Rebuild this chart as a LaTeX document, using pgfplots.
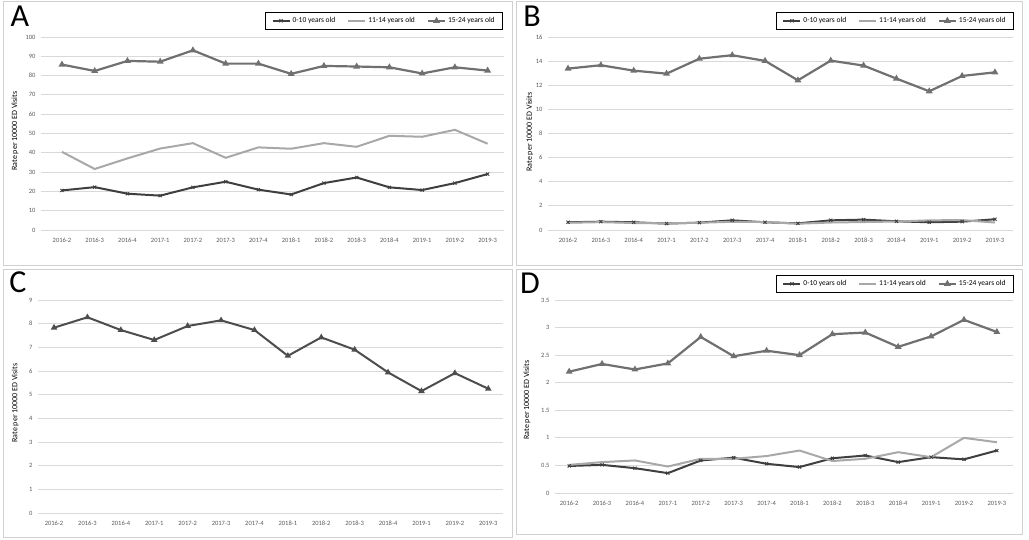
\documentclass[border=0pt]{standalone}
\usepackage{fontspec}
\setmainfont{Carlito}
\usepackage{pgfplots}
\pgfplotsset{compat=1.18}
\definecolor{cA}{HTML}{3F3F3F}
\definecolor{cB}{HTML}{A8A8A8}
\definecolor{cC}{HTML}{707070}
\definecolor{cS}{HTML}{4D4D4D}
\definecolor{gridc}{HTML}{D9D9D9}
\definecolor{tickc}{HTML}{595959}
\definecolor{framec}{HTML}{D0D0D0}
\pgfplotsset{
 panel/.style={
  scale only axis,
  axis line style={draw=none},
  tick style={draw=none},
  ymajorgrids,
  major grid style={gridc, line width=0.8pt},
  xtick={0,...,13},
  xticklabels={2016-2,2016-3,2016-4,2017-1,2017-2,2017-3,2017-4,2018-1,2018-2,2018-3,2018-4,2019-1,2019-2,2019-3},
  ticklabel style={font=\fontsize{6.5}{7}\selectfont, text=tickc},
  /pgf/number format/assume math mode=true,
  xticklabel style={yshift=-5pt},
  yticklabel style={xshift=-2pt},
  ylabel={Rate per 10000 ED Visits},
  ylabel style={font=\fontsize{8}{9}\selectfont, text=black, anchor=center},
  legend style={draw=black, line width=0.8pt, font=\fontsize{7.5}{8}\selectfont, anchor=north east, legend columns=3, inner ysep=3pt, inner xsep=6pt},
  legend cell align=left,
  /tikz/every even column/.append style={column sep=10pt},
  legend image code/.code={\draw[mark repeat=2,mark phase=2,##1] plot coordinates {(0pt,0pt) (8.5pt,0pt) (17pt,0pt)};},
  clip=false,
 },
 s010/.style={cA, line width=2pt, mark=x, mark size=2.2pt, mark options={solid, line width=0.9pt}},
 s1114/.style={cB, line width=2pt, no markers},
 s1524/.style={cC, line width=2.2pt, mark=triangle*, mark size=1.8pt, mark options={solid}},
 ssingle/.style={cS, line width=2pt, mark=triangle*, mark size=1.8pt, mark options={solid}},
}
\begin{document}
\begin{tikzpicture}
\path[use as bounding box] (0pt,0pt) rectangle (1029pt,540pt);
% panel frames
\draw[framec, line width=1pt] (3pt,274pt) rectangle (512pt,538pt);
\draw[framec, line width=1pt] (516pt,274pt) rectangle (1022pt,538pt);
\draw[framec, line width=1pt] (3pt,2pt) rectangle (512pt,270pt);
\draw[framec, line width=1pt] (516pt,5pt) rectangle (1022pt,270pt);
% letters
\node[font=\fontsize{32}{32}\selectfont] at (20pt,524pt) {A};
\node[font=\fontsize{32}{32}\selectfont] at (532pt,524pt) {B};
\node[font=\fontsize{32}{32}\selectfont] at (18pt,258pt) {C};
\node[font=\fontsize{32}{32}\selectfont] at (530pt,257pt) {D};

% Panel A
\begin{axis}[panel, at={(41pt,310pt)}, anchor=south west, width=463pt, height=193pt,
  xmin=-0.64, xmax=13.5, ymin=0, ymax=100, ytick={0,10,...,100},
  ylabel style={at={(axis description cs:-0.056,0.513)}},
  legend style={at={(axis description cs:0.998,1.1295)}}]
\addplot[s010] coordinates {(0,20.5)(1,22.2)(2,18.8)(3,17.8)(4,22.1)(5,25.0)(6,20.9)(7,18.4)(8,24.3)(9,27.2)(10,22.1)(11,20.7)(12,24.3)(13,29.0)};
\addlegendentry{0-10 years old}
\addplot[s1114] coordinates {(0,40.5)(1,31.6)(2,37.1)(3,42.2)(4,45.0)(5,37.4)(6,42.8)(7,42.1)(8,45.0)(9,43.1)(10,48.8)(11,48.3)(12,51.9)(13,44.7)};
\addlegendentry{11-14 years old}
\addplot[s1524] coordinates {(0,85.7)(1,82.4)(2,87.6)(3,87.2)(4,93.1)(5,86.2)(6,86.2)(7,80.9)(8,85.0)(9,84.7)(10,84.3)(11,81.1)(12,84.3)(13,82.6)};
\addlegendentry{15-24 years old}
\end{axis}

% Panel B
\begin{axis}[panel, at={(548pt,310pt)}, anchor=south west, width=465pt, height=193pt,
  xmin=-0.61, xmax=13.55, ymin=0, ymax=16, ytick={0,2,...,16},
  ylabel style={at={(axis description cs:-0.039,0.508)}},
  legend style={at={(axis description cs:1.002,1.1295)}}]
\addplot[s010] coordinates {(0,0.64)(1,0.69)(2,0.64)(3,0.53)(4,0.61)(5,0.80)(6,0.64)(7,0.55)(8,0.80)(9,0.86)(10,0.72)(11,0.64)(12,0.69)(13,0.89)};
\addlegendentry{0-10 years old}
\addplot[s1114] coordinates {(0,0.60)(1,0.65)(2,0.58)(3,0.55)(4,0.60)(5,0.68)(6,0.66)(7,0.52)(8,0.62)(9,0.66)(10,0.70)(11,0.80)(12,0.82)(13,0.62)};
\addlegendentry{11-14 years old}
\addplot[s1524] coordinates {(0,13.38)(1,13.66)(2,13.21)(3,12.96)(4,14.20)(5,14.49)(6,14.02)(7,12.41)(8,14.04)(9,13.63)(10,12.55)(11,11.50)(12,12.77)(13,13.07)};
\addlegendentry{15-24 years old}
\end{axis}

% Panel C
\begin{axis}[panel, at={(38pt,27pt)}, anchor=south west, width=465pt, height=213pt,
  xmin=-0.48, xmax=13.44, ymin=0, ymax=9, ytick={0,1,...,9},
  ylabel style={at={(axis description cs:-0.049,0.516)}}]
\addplot[ssingle] coordinates {(0,7.83)(1,8.27)(2,7.73)(3,7.31)(4,7.90)(5,8.14)(6,7.73)(7,6.64)(8,7.42)(9,6.90)(10,5.94)(11,5.15)(12,5.91)(13,5.25)};
\end{axis}

% Panel D
\begin{axis}[panel, at={(555pt,47pt)}, anchor=south west, width=458pt, height=193pt,
  xmin=-0.43, xmax=13.49, ymin=0, ymax=3.5, ytick={0,0.5,...,3.5},
  ylabel style={at={(axis description cs:-0.061,0.482)}},
  legend style={at={(axis description cs:1.002,1.1295)}}]
\addplot[s010] coordinates {(0,0.49)(1,0.51)(2,0.45)(3,0.36)(4,0.59)(5,0.64)(6,0.53)(7,0.47)(8,0.63)(9,0.68)(10,0.56)(11,0.65)(12,0.61)(13,0.77)};
\addlegendentry{0-10 years old}
\addplot[s1114] coordinates {(0,0.51)(1,0.56)(2,0.59)(3,0.48)(4,0.62)(5,0.62)(6,0.67)(7,0.77)(8,0.58)(9,0.62)(10,0.74)(11,0.65)(12,1.00)(13,0.92)};
\addlegendentry{11-14 years old}
\addplot[s1524] coordinates {(0,2.20)(1,2.34)(2,2.24)(3,2.35)(4,2.83)(5,2.48)(6,2.58)(7,2.50)(8,2.88)(9,2.91)(10,2.65)(11,2.84)(12,3.14)(13,2.92)};
\addlegendentry{15-24 years old}
\end{axis}
\end{tikzpicture}
\end{document}
